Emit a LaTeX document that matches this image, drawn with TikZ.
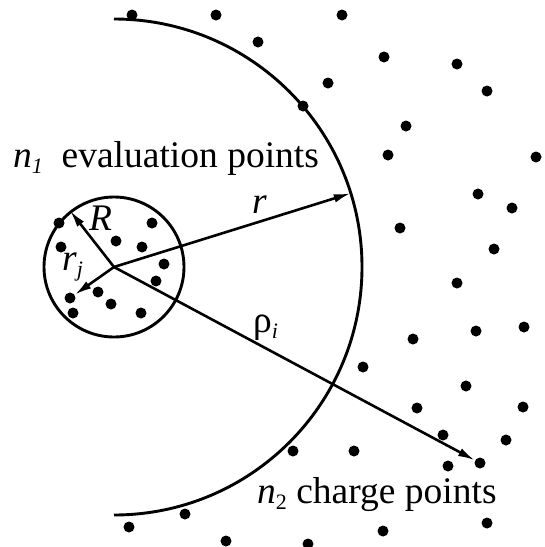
\documentclass[tikz,border=0pt]{standalone}
\usepackage{fontspec}
\setmainfont{Liberation Serif}
\usetikzlibrary{arrows.meta,calc}
\tikzset{
  dot/.style={circle, fill=black, inner sep=0pt, minimum size=11pt},
  arr/.style={-{Latex[length=17pt,width=8.5pt]}, line width=2.6pt},
  curve/.style={line width=2.9pt},
  lbl/.style={anchor=base west, inner sep=0pt, font=\fontsize{37.5}{40}\selectfont},
}
\newcommand{\subsc}[1]{{\fontsize{22}{22}\selectfont\raisebox{-6pt}{#1}}}
\begin{document}
\begin{tikzpicture}[x=1pt,y=-1pt]
\useasboundingbox (0,0) rectangle (545,547);
% centre and circles
\coordinate (O) at (114,267);
\node[circle, draw, curve, minimum size=140pt, inner sep=0pt] (C) at (O) {};
\coordinate (arcTop) at (114,19);
\draw[curve] (arcTop) arc[start angle=-90, end angle=90, radius=248];
\coordinate (rt) at ($(O)+(-17.3:248)$);
% dots outside
\foreach \i/\x/\y in {1/132/15, 2/216/15, 3/258/42, 4/342/15, 5/384/57, 6/457/64,
  7/328/83, 8/487/91, 9/303/106, 10/406/126, 11/388/155, 12/536/157,
  13/478/194, 14/512/208, 15/400/228, 16/494/249, 17/457/283, 18/476/331,
  19/524/327, 20/413/339, 21/363/367, 22/466/386, 23/417/408, 24/523/407,
  25/443/435, 26/506/440, 27/293/451, 28/354/451, 29/448/466, 30/480/463,
  31/487/523, 32/383/531, 33/308/544, 34/185/514, 35/129/527, 36/226/541}
  \node[dot] (o\i) at (\x,\y) {};
% dots inside
\foreach \i/\x/\y in {1/59/223, 2/152/223, 3/116/241, 4/61/247, 5/142/247,
  6/164/264, 7/156/281, 8/98/292, 9/70/298, 10/111/304, 11/73/313, 12/141/313}
  \node[dot] (e\i) at (\x,\y) {};
% arrows
\draw[arr] (O) -- (C.128);
\draw[arr] (O) -- (rt);
\draw[arr] (O) -- (e9);
\draw[arr] (O) -- (o30);
% labels
\node[lbl] (t1) at (13,167) {\textit{n}\subsc{\textit{1}}\ \ evaluation points};
\node[lbl] (t2) at (257,503) {\textit{n}\subsc{2}\ charge points};
\node[lbl] (lr) at (252,213) {\textit{r}};
\node[lbl] (lR) at (89,230) {\textit{R}};
\node[lbl] (lrj) at (62,270) {\textit{r}\subsc{\textit{j}}};
\node[lbl] (lrho) at (253,332) {ρ\subsc{\textit{i}}};
\end{tikzpicture}
\end{document}
